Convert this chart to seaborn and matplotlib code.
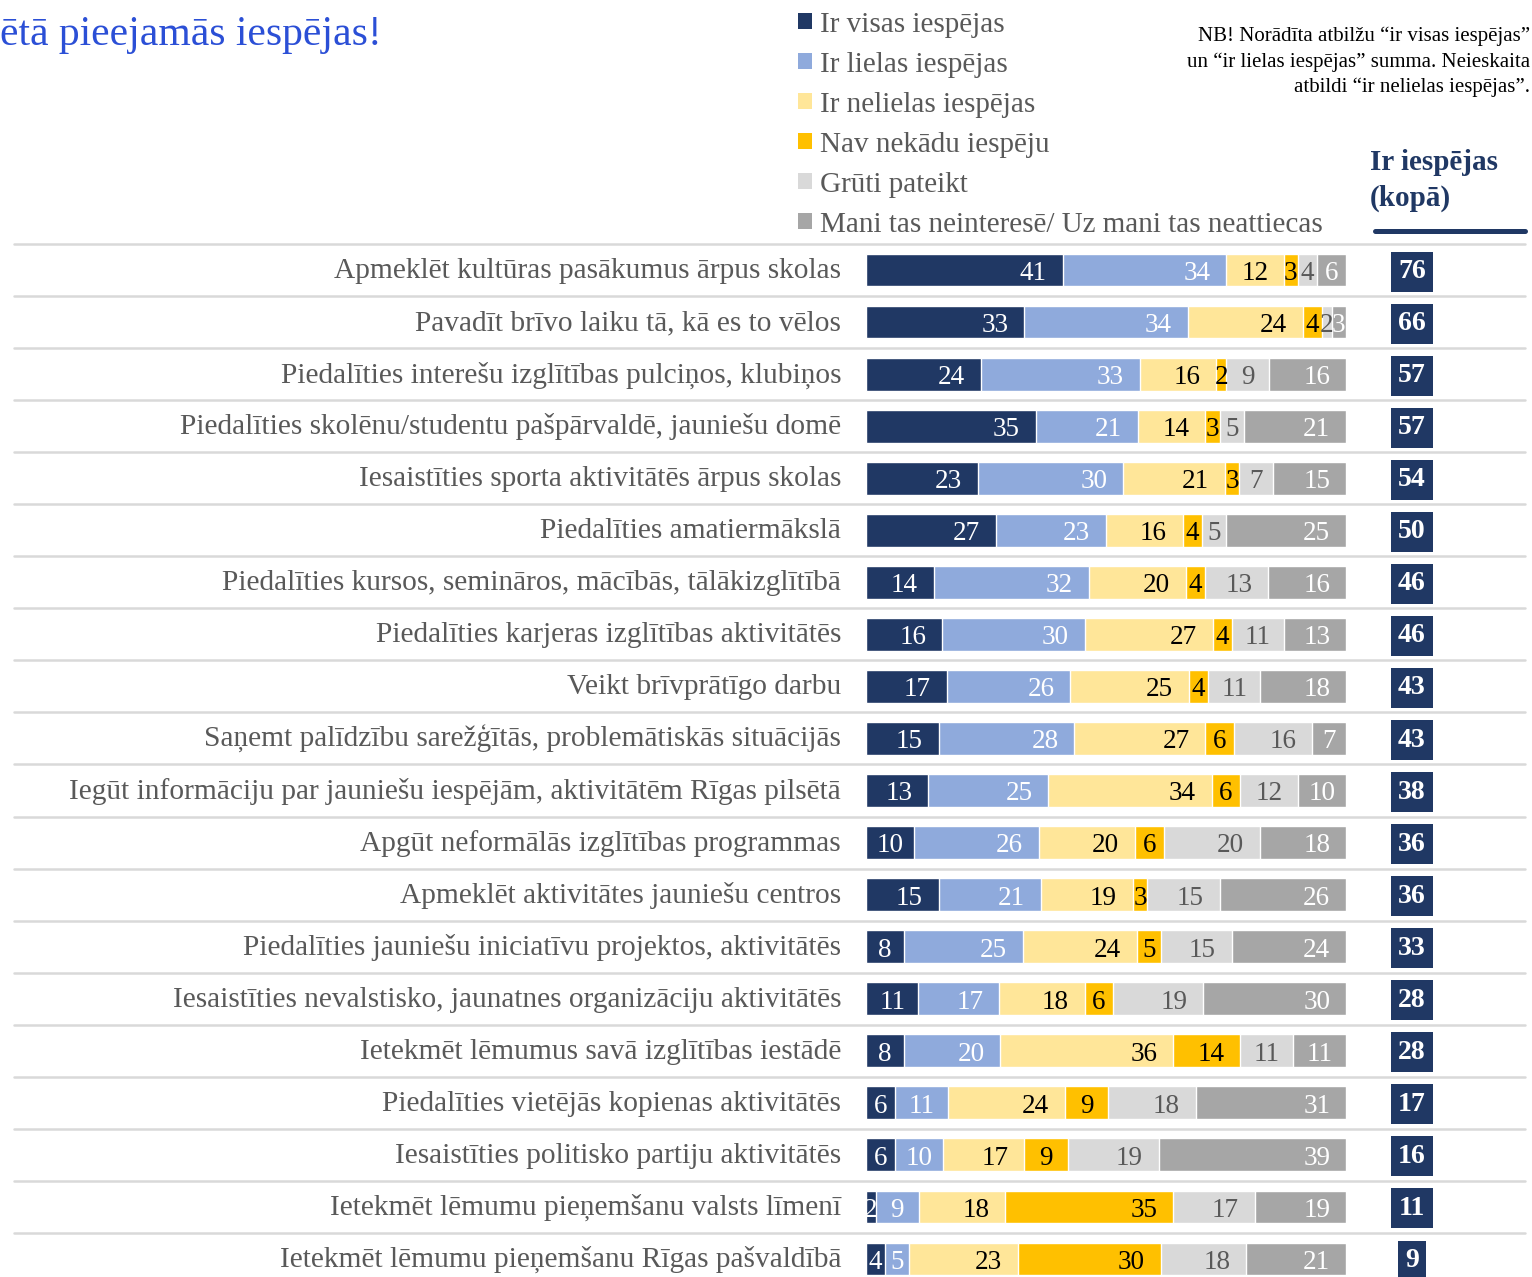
import numpy as np
import pandas as pd
import matplotlib.pyplot as plt
import seaborn as sns
from matplotlib.patches import Patch
from matplotlib.lines import Line2D

# Kategorijas (no augšas uz leju)
categories = [
    "Apmeklēt kultūras pasākumus ārpus skolas",
    "Pavadīt brīvo laiku tā, kā es to vēlos",
    "Piedalīties interešu izglītības pulciņos, klubiņos",
    "Piedalīties skolēnu/studentu pašpārvaldē, jauniešu domē",
    "Iesaistīties sporta aktivitātēs ārpus skolas",
    "Piedalīties amatiermākslā",
    "Piedalīties kursos, semināros, mācībās, tālākizglītībā",
    "Piedalīties karjeras izglītības aktivitātēs",
    "Veikt brīvprātīgo darbu",
    "Saņemt palīdzību sarežģītās, problemātiskās situācijās",
    "Iegūt informāciju par jauniešu iespējām, aktivitātēm Rīgas pilsētā",
    "Apgūt neformālās izglītības programmas",
    "Apmeklēt aktivitātes jauniešu centros",
    "Piedalīties jauniešu iniciatīvu projektos, aktivitātēs",
    "Iesaistīties nevalstisko, jaunatnes organizāciju aktivitātēs",
    "Ietekmēt lēmumus savā izglītības iestādē",
    "Piedalīties vietējās kopienas aktivitātēs",
    "Iesaistīties politisko partiju aktivitātēs",
    "Ietekmēt lēmumu pieņemšanu valsts līmenī",
    "Ietekmēt lēmumu pieņemšanu Rīgas pašvaldībā",
]

ir_visas = [41, 33, 24, 35, 23, 27, 14, 16, 17, 15, 13, 10, 15, 8, 11, 8, 6, 6, 2, 4]
ir_lielas = [34, 34, 33, 21, 30, 23, 32, 30, 26, 28, 25, 26, 21, 25, 17, 20, 11, 10, 9, 5]
ir_nelielas = [12, 24, 16, 14, 21, 16, 20, 27, 25, 27, 34, 20, 19, 24, 18, 36, 24, 17, 18, 23]
nav_nekadu = [3, 4, 2, 3, 3, 4, 4, 4, 4, 6, 6, 6, 3, 5, 6, 14, 9, 9, 35, 30]
gruti_pateikt = [4, 2, 9, 5, 7, 5, 13, 11, 11, 16, 12, 20, 15, 15, 19, 11, 18, 19, 17, 18]
neinteresē = [6, 3, 16, 21, 15, 25, 16, 13, 18, 7, 10, 18, 26, 24, 30, 11, 31, 39, 19, 21]
ir_iespejas_kopa = [76, 66, 57, 57, 54, 50, 46, 46, 43, 43, 38, 36, 36, 33, 28, 28, 17, 16, 11, 9]

series_names = [
    "Ir visas iespējas",
    "Ir lielas iespējas",
    "Ir nelielas iespējas",
    "Nav nekādu iespēju",
    "Grūti pateikt",
    "Mani tas neinteresē/ Uz mani tas neattiecas",
]
series = [ir_visas, ir_lielas, ir_nelielas, nav_nekadu, gruti_pateikt, neinteresē]

colors = ["#203864", "#8FAADC", "#FFE699", "#FFC000", "#D9D9D9", "#A6A6A6"]
text_colors = ["white", "white", "black", "black", "#595959", "white"]
navy = "#203864"

sns.set_theme(style="white")
plt.rcParams["font.family"] = ["Liberation Serif", "DejaVu Serif"]

W, H = 1532, 1277
fig = plt.figure(figsize=(W / 100, H / 100), dpi=100)
ax = fig.add_axes([866 / W, 1 - 1285 / H, 480 / W, (1285 - 244) / H])

# 100% sakrautie stabiņi: kumulatīvās daļas, zīmētas no garākās
values = np.array(series, dtype=float)
shares = values / values.sum(axis=0) * 100
cum = np.cumsum(shares, axis=0)
for k in reversed(range(len(series))):
    df = pd.DataFrame({"kat": categories, "v": cum[k]})
    sns.barplot(data=df, x="v", y="kat", color=colors[k], saturation=1,
                width=0.63, orient="h", ax=ax)

ax.set_xlim(0, 100)
ax.set_ylim(19.5, -0.5)
ax.set_xlabel("")
ax.set_ylabel("")
ax.set_xticks([])
ax.set_yticks([])
for s in ax.spines.values():
    s.set_visible(False)

# kategoriju nosaukumi
for i, c in enumerate(categories):
    ax.text(-0.052, i + 0.155, c, transform=ax.get_yaxis_transform(),
            ha="right", va="baseline", fontsize=21.2, color="#595959")

# vērtību etiķetes
pad = 3.3
digit_w = 2.9
for k in range(len(series)):
    for i, v in enumerate(series[k]):
        end = cum[k][i]
        start = end - shares[k][i]
        label = str(int(v))
        tw = digit_w * len(label)
        if end - start >= tw + 2 * pad:
            ax.text(end - pad, i + 0.19, label, ha="right", va="baseline",
                    fontsize=19.5, color=text_colors[k])
        else:
            ax.text((start + end) / 2, i + 0.19, label, ha="center", va="baseline",
                    fontsize=19.5, color=text_colors[k], clip_on=False)

# atdalītājlīnijas
for i in range(len(categories) + 1):
    ax.plot([-1.775, 1.373], [i - 0.5, i - 0.5], transform=ax.get_yaxis_transform(),
            color="#D9D9D9", lw=1.8, clip_on=False, zorder=0)

# kopsummas labajā pusē
for i, t in enumerate(ir_iespejas_kopa):
    ax.text(1.1375, i + 0.03, str(t), transform=ax.get_yaxis_transform(),
            ha="center", va="center", color="white", fontsize=20, fontweight="bold",
            bbox=dict(boxstyle="square,pad=0.27", fc=navy, ec="none"))

fig.text(1370 / W, 1 - 163 / H, "Ir iespējas", ha="left", va="center",
         fontsize=21, fontweight="bold", color=navy)
fig.text(1370 / W, 1 - 198 / H, "(kopā)", ha="left", va="center",
         fontsize=21, fontweight="bold", color=navy)
fig.add_artist(Line2D([1375 / W, 1525 / W], [1 - 231 / H] * 2, color=navy, lw=3.6))

# leģenda
handles = [Patch(facecolor=c, edgecolor="none") for c in colors]
leg = fig.legend(handles, series_names, loc="upper left",
                 bbox_to_anchor=(786 / W, 1.0), frameon=False,
                 fontsize=21, labelcolor="#595959",
                 handlelength=0.48, handleheight=0.48, handletextpad=0.28,
                 labelspacing=0.48, borderaxespad=0)

fig.text(1530 / W, 1 - 62 / H,
         "NB! Norādīta atbilžu “ir visas iespējas”\n"
         "un “ir lielas iespējas” summa. Neieskaita\n"
         "atbildi “ir nelielas iespējas”.",
         ha="right", va="center", fontsize=15, color="black", linespacing=1.4)

fig.text(0, 1 - 35 / H, "ētā pieejamās iespējas!", ha="left", va="center",
         fontsize=30, color="#2B4FD6")

fig.savefig("out.png", dpi=100)
